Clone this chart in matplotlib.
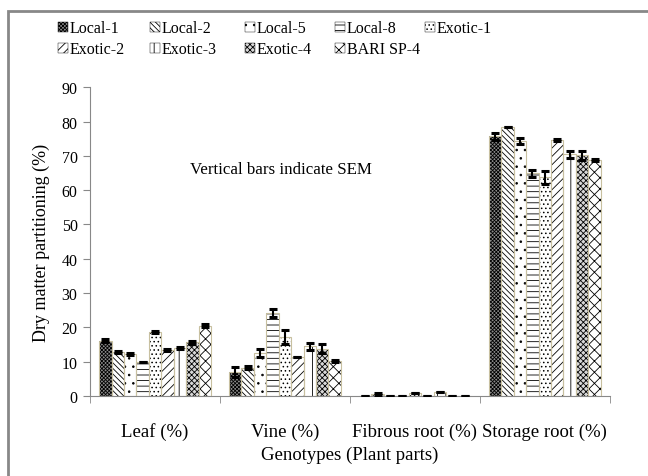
import numpy as np
import matplotlib
matplotlib.use('Agg')
import matplotlib.pyplot as plt
from matplotlib.patches import Rectangle, Patch

plt.rcParams['font.family'] = ['Liberation Serif', 'DejaVu Serif']
plt.rcParams['hatch.linewidth'] = 0.6

parts = ['Leaf (%)', 'Vine (%)', 'Fibrous root (%)', 'Storage root (%)']
genotypes = ['Local-1', 'Local-2', 'Local-5', 'Local-8', 'Exotic-1',
             'Exotic-2', 'Exotic-3', 'Exotic-4', 'BARI SP-4']

# values per genotype: leaf, vine, fibrous root, storage root
local_1 = [16.1, 7.0, 0.0, 75.7]
local_2 = [12.8, 8.2, 0.6, 78.3]
local_5 = [12.2, 12.4, 0.0, 74.4]
local_8 = [10.0, 24.2, 0.0, 64.9]
exotic_1 = [18.6, 17.1, 0.8, 63.8]
exotic_2 = [13.4, 11.2, 0.0, 74.6]
exotic_3 = [13.9, 14.5, 1.0, 70.4]
exotic_4 = [15.6, 13.7, 0.0, 70.1]
bari_sp4 = [20.5, 10.3, 0.0, 68.8]
values = [local_1, local_2, local_5, local_8, exotic_1,
          exotic_2, exotic_3, exotic_4, bari_sp4]

sem_local_1 = [0.4, 1.5, 0.0, 1.0]
sem_local_2 = [0.3, 0.4, 0.3, 0.0]
sem_local_5 = [0.3, 1.2, 0.0, 0.9]
sem_local_8 = [0.0, 1.2, 0.0, 1.1]
sem_exotic_1 = [0.3, 2.0, 0.0, 1.9]
sem_exotic_2 = [0.3, 0.0, 0.0, 0.3]
sem_exotic_3 = [0.3, 1.0, 0.0, 1.0]
sem_exotic_4 = [0.4, 1.3, 0.0, 1.3]
sem_bari_sp4 = [0.4, 0.3, 0.0, 0.3]
sems = [sem_local_1, sem_local_2, sem_local_5, sem_local_8, sem_exotic_1,
        sem_exotic_2, sem_exotic_3, sem_exotic_4, sem_bari_sp4]

hatches = ['xxxxxxxxx', '\\\\\\\\\\\\', '..', '---', '....',
           '////', '||', 'xxxxxx', 'xxx']
face = ['#8a8a8a', 'white', 'white', 'white', 'white',
        'white', 'white', '#d8d8d8', 'white']

fig = plt.figure(figsize=(6.48, 4.77), dpi=100)
ax = fig.add_axes([0.139, 0.168, 0.802, 0.647])

nbar = len(genotypes)
bw = 0.0957
x = np.arange(len(parts))
edge_col = '#c8c0a0'
for i in range(nbar):
    pos = x + (i - (nbar - 1) / 2) * bw
    ax.bar(pos, values[i], bw, color=face[i], edgecolor='black',
           hatch=hatches[i], linewidth=0, zorder=2)
    ax.bar(pos, values[i], bw, color='none', edgecolor=edge_col,
           linewidth=0.8, zorder=3)
    err = np.array(sems[i])
    ax.errorbar(pos, values[i], yerr=err, fmt='none', ecolor='black',
                elinewidth=1.5, capsize=3, capthick=2.2, zorder=4)

ax.set_xlim(-0.5, len(parts) - 0.5)
ax.set_ylim(0, 90)
ax.set_yticks(np.arange(0, 91, 10))
ax.set_xticks(x)
ax.set_xticklabels(parts, fontsize=13.5)
ax.set_xticks(np.arange(-0.5, len(parts), 1), minor=True)
ax.tick_params(axis='x', which='major', length=0, pad=19)
ax.tick_params(axis='x', which='minor', length=5, color='#888888')
ax.tick_params(axis='y', length=5, color='#888888', labelsize=11.5, pad=4)
for s in ['top', 'right']:
    ax.spines[s].set_visible(False)
for s in ['left', 'bottom']:
    ax.spines[s].set_color('#888888')
ax.set_ylabel('Dry matter partitioning (%)', fontsize=13, labelpad=8)
ax.set_xlabel('Genotypes (Plant parts)', fontsize=13.5, labelpad=4)

fig.text(190 / 648, 1 - 170 / 477, 'Vertical bars indicate SEM',
         fontsize=12.2, va='center', ha='left')

# legend: five fixed columns, two rows
col_x = [58, 150, 245, 335, 425]
columns = [[0, 5], [1, 6], [2, 7], [3, 8], [4]]
for cx, idx in zip(col_x, columns):
    hs = [Patch(facecolor=face[k], edgecolor='black', hatch=hatches[k],
                linewidth=0.3) for k in idx]
    leg = fig.legend(hs, [genotypes[k] for k in idx], loc='upper left',
                     bbox_to_anchor=(cx / 648, 0.955), frameon=False,
                     fontsize=11.5, handlelength=0.6, handleheight=0.6,
                     handletextpad=0.15, labelspacing=0.3, borderpad=0,
                     borderaxespad=0)

fig.patches.append(Rectangle((8 / 648, -0.1), 1.2, 1 - 12 / 477 + 0.1,
                             transform=fig.transFigure, fill=False,
                             edgecolor='#888888', linewidth=2))

fig.savefig('out.png', dpi=100)
